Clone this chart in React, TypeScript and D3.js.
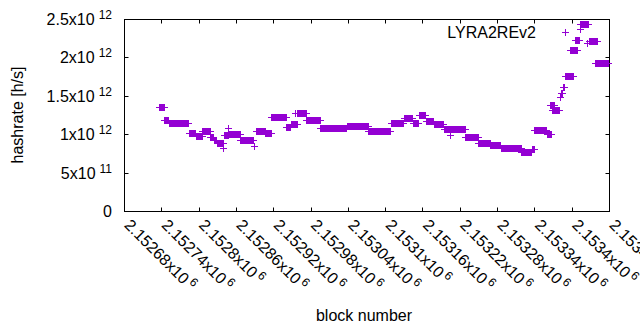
import React from 'react';
import * as d3 from 'd3';

// ---- data ----
const xTickValues = [2152680, 2152740, 2152800, 2152860, 2152920, 2152980, 2153040, 2153100, 2153160, 2153220, 2153280, 2153340, 2153400, 2153460];
const xTickLabels = ['2.15268', '2.15274', '2.1528', '2.15286', '2.15292', '2.15298', '2.15304', '2.1531', '2.15316', '2.15322', '2.15328', '2.15334', '2.1534', '2.15346'];
const xTickExp = '6';
const yTickValues = [0, 0.5e12, 1e12, 1.5e12, 2e12, 2.5e12];
const yTickMantissa = ['0', '5', '1', '1.5', '2', '2.5'];
const yTickExp = ['', '11', '12', '12', '12', '12'];

const seriesName = 'LYRA2REv2';
const xLabel = 'block number';
const yLabel = 'hashrate [h/s]';

// runs of blocks sharing the same hashrate (value in 1e12 h/s)
const runStart = [2152736, 2152745, 2152752, 2152784, 2152795, 2152806, 2152819, 2152824, 2152829, 2152840, 2152841, 2152848, 2152849, 2152867, 2152889, 2152892, 2152907, 2152917, 2152941, 2152948, 2152955, 2152959, 2152973, 2152996, 2153038, 2153073, 2153109, 2153130, 2153144, 2153155, 2153165, 2153178, 2153194, 2153205, 2153206, 2153229, 2153250, 2153269, 2153286, 2153319, 2153336, 2153339, 2153360, 2153365, 2153369, 2153381, 2153383, 2153386, 2153389, 2153397, 2153405, 2153413, 2153414, 2153424, 2153428, 2153437];
const runEnd = [2152744, 2152751, 2152783, 2152794, 2152805, 2152818, 2152823, 2152828, 2152839, 2152840, 2152847, 2152848, 2152866, 2152887, 2152889, 2152906, 2152916, 2152940, 2152947, 2152958, 2152955, 2152972, 2152995, 2153037, 2153072, 2153108, 2153129, 2153143, 2153153, 2153164, 2153177, 2153193, 2153204, 2153205, 2153228, 2153249, 2153268, 2153285, 2153318, 2153335, 2153340, 2153359, 2153366, 2153372, 2153380, 2153381, 2153385, 2153388, 2153402, 2153408, 2153412, 2153413, 2153426, 2153424, 2153441, 2153458];
const runValue = [1.35, 1.185, 1.14, 1.015, 0.98, 1.04, 0.96, 0.92, 0.89, 0.82, 0.99, 1.08, 1.0, 0.92, 0.84, 1.04, 1.02, 1.23, 1.09, 1.13, 1.27, 1.28, 1.185, 1.08, 1.105, 1.04, 1.15, 1.21, 1.15, 1.245, 1.17, 1.13, 1.07, 0.99, 1.07, 0.97, 0.885, 0.855, 0.82, 0.77, 0.81, 1.05, 1.0, 1.38, 1.31, 1.48, 1.54, 1.62, 1.76, 2.1, 2.225, 2.37, 2.44, 2.19, 2.21, 1.93];

const COLOR = '#9400d3';
const FONT = '"Liberation Sans", Arial, sans-serif';

export default function App() {
  const W = 640, H = 330;
  const left = 124.5, right = 609.5, top = 19.5, bottom = 211.5;
  const x = d3.scaleLinear().domain([xTickValues[0], xTickValues[xTickValues.length - 1]]).range([left, right]);
  const y = d3.scaleLinear().domain([0, 2.5e12]).range([bottom, top]);

  const points: [number, number][] = [];
  runStart.forEach((s, i) => {
    for (let b = s; b <= runEnd[i]; b++) points.push([b, runValue[i] * 1e12]);
  });

  const half = 3.5;
  const plus = (px: number, py: number) => `M${px - half},${py}H${px + half}M${px},${py - half}V${py + half}`;
  let d = '';
  points.forEach(([b, v]) => {
    const px = Math.floor(x(b)) + 0.5;
    const py = Math.floor(y(v)) + 0.5;
    d += plus(px, py);
  });

  const tl = 4;
  let ticks = '';
  xTickValues.forEach((v) => {
    const px = Math.floor(x(v)) + 0.5;
    ticks += `M${px},${bottom}V${bottom - tl}M${px},${top}V${top + tl}`;
  });
  yTickValues.forEach((v) => {
    const py = Math.floor(y(v)) + 0.5;
    ticks += `M${left},${py}H${left + tl}M${right},${py}H${right - tl}`;
  });

  return (
    <svg width={W} height={H} style={{ position: 'absolute', left: 0, top: 0, background: '#fff' }} fontFamily={FONT} fontSize={16}>
      <rect x={0} y={0} width={W} height={H} fill="#fff" />
      <path d={ticks} stroke="#000" strokeWidth={1} fill="none" />
      <rect x={left} y={top} width={right - left} height={bottom - top} fill="none" stroke="#000" strokeWidth={1} />
      {yTickValues.map((v, i) => (
        <text key={'y' + i} x={112} y={y(v) + 5.5} textAnchor="end" fill="#000">
          {yTickMantissa[i] === '0' ? '0' : `${yTickMantissa[i]}x10`}
          {yTickExp[i] && (
            <tspan dx={4} dy={-6} fontSize={12}>{yTickExp[i]}</tspan>
          )}
        </text>
      ))}
      {xTickValues.map((v, i) => (
        <text key={'x' + i} transform={`translate(${x(v) - 1},${226}) rotate(45)`} fill="#000">
          {`${xTickLabels[i]}x10`}
          <tspan dx={2.5} dy={-6} fontSize={12}>{xTickExp}</tspan>
        </text>
      ))}
      <text transform={`translate(23,115) rotate(-90)`} textAnchor="middle" fill="#000">{yLabel}</text>
      <text x={364} y={321} textAnchor="middle" fill="#000">{xLabel}</text>
      <text x={536} y={38} textAnchor="end" fill="#000">{seriesName}</text>
      <path d={plus(565.5, 32.5)} stroke={COLOR} strokeWidth={1} fill="none" />
      <path d={d} stroke={COLOR} strokeWidth={1} fill="none" />
    </svg>
  );
}
